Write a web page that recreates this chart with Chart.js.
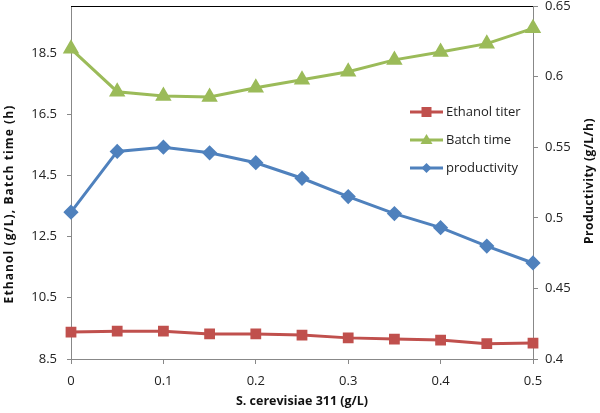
<!DOCTYPE html>
<html>
<head>
<meta charset="utf-8">
<script src="https://cdn.jsdelivr.net/npm/chart.js@4"></script>
<style>
  html, body { margin: 0; padding: 0; background: #fff; }
  #wrap { width: 600px; height: 413px; }
</style>
</head>
<body>
<div id="wrap"><canvas id="myChart" width="600" height="413"></canvas></div>
<script>

var dose = [ 0, 0.05, 0.1, 0.15, 0.2, 0.25, 0.3, 0.35, 0.4, 0.45, 0.5 ];
var titer = [ 9.38, 9.41, 9.41, 9.32, 9.32, 9.28, 9.19, 9.15, 9.12, 9.0, 9.02 ];
var batchTime = [ 18.63, 17.23, 17.09, 17.06, 17.36, 17.62, 17.88, 18.27, 18.53, 18.8, 19.3 ];
var productivity = [ 0.504, 0.547, 0.550, 0.546, 0.539, 0.528, 0.515, 0.503, 0.493, 0.480, 0.468 ];

var xTicks = [ 0, 0.1, 0.2, 0.3, 0.4, 0.5 ];
var leftTicks = [ 8.5, 10.5, 12.5, 14.5, 16.5, 18.5 ];
var rightTicks = [ 0.4, 0.45, 0.5, 0.55, 0.6, 0.65 ];

var pts = (arr)=> arr.map( (v,i)=>({ x: dose[i], y: v }) );

var FONT = "'Open Sans', sans-serif";

var frame = {
	id: "frame",
	afterDatasetsDraw: (chart)=>{
		var ctx = chart.ctx, a = chart.chartArea;
		ctx.save();
		ctx.strokeStyle = "#000";
		ctx.lineWidth = 1;
		ctx.beginPath();
		ctx.moveTo( a.left, a.top + 0.5 );
		ctx.lineTo( a.right, a.top + 0.5 );
		ctx.stroke();

		// legend inside plot
		var x0 = 410, y0 = 112, gap = 28;
		chart.data.datasets.forEach( (ds,i)=>{
			var y = y0 + i*gap;
			ctx.strokeStyle = ds.borderColor;
			ctx.lineWidth = 3;
			ctx.beginPath(); ctx.moveTo( x0, y ); ctx.lineTo( x0 + 33, y ); ctx.stroke();
			ctx.fillStyle = ds.backgroundColor;
			var cx = x0 + 16.5;
			ctx.beginPath();
			if( ds.pointStyle == "rect" ) ctx.rect( cx-5, y-5, 10, 10 );
			else if( ds.pointStyle == "triangle" ){ ctx.moveTo( cx, y-6 ); ctx.lineTo( cx+6, y+4 ); ctx.lineTo( cx-6, y+4 ); ctx.closePath(); }
			else { ctx.moveTo( cx, y-5 ); ctx.lineTo( cx+5, y ); ctx.lineTo( cx, y+5 ); ctx.lineTo( cx-5, y ); ctx.closePath(); }
			ctx.fill();
			ctx.fillStyle = "#222";
			ctx.font = "13px " + FONT;
			ctx.textBaseline = "middle";
			ctx.textAlign = "left";
			ctx.fillText( ds.label, x0 + 36, y );
		});

		// y axis titles, both reading bottom to top
		ctx.fillStyle = "#111";
		ctx.textAlign = "center";
		ctx.textBaseline = "middle";
		ctx.save();
		ctx.translate( 10, 204 );
		ctx.rotate( -Math.PI/2 );
		ctx.font = "bold 12px " + FONT;
		ctx.letterSpacing = "1.1px";
		ctx.fillText( "Ethanol (g/L), Batch time (h)", 0, 0 );
		ctx.restore();
		ctx.save();
		ctx.translate( 590, 181 );
		ctx.rotate( -Math.PI/2 );
		ctx.font = "bold 12px " + FONT;
		ctx.letterSpacing = "0.5px";
		ctx.fillText( "Productivity (g/L/h)", 0, 0 );
		ctx.restore();
		ctx.restore();
	}
};

var noPad = (w)=> (s)=>{ s.width = w; s.paddingTop = 0; s.paddingBottom = 0; };

new Chart( "myChart", {
	type: "line",
	data: {
		datasets: [
		{
			label: "Ethanol titer",
			data: pts( titer ),
			yAxisID: "y",
			borderColor: "#C0504D",
			backgroundColor: "#C0504D",
			pointStyle: "rect",
			pointRadius: 5.5,
			borderWidth: 3,
			fill: false,
			clip: false
		},
		{
			label: "Batch time",
			data: pts( batchTime ),
			yAxisID: "y",
			borderColor: "#9BBB59",
			backgroundColor: "#9BBB59",
			pointStyle: "triangle",
			pointRadius: 6.5,
			borderWidth: 3,
			fill: false,
			clip: false
		},
		{
			label: "productivity",
			data: pts( productivity ),
			yAxisID: "y2",
			borderColor: "#4F81BD",
			backgroundColor: "#4F81BD",
			pointStyle: "rectRot",
			pointRadius: 5.5,
			borderWidth: 3,
			fill: false,
			clip: false
		}
	]},
	options: {
		responsive: false,
		animation: false,
		layout: { autoPadding: false, padding: { top: 6, left: 0, right: 0, bottom: 0 } },
		plugins: { legend: { display: false }, tooltip: { enabled: false } },
		scales: {
			x: {
				type: "linear",
				min: 0, max: 0.5,
				afterBuildTicks: (s)=>{ s.ticks = xTicks.map( v=>({ value: v }) ); },
				afterFit: (s)=>{ s.height = 54; },
				grid: { drawOnChartArea: false, color: "#888", tickLength: 5 },
				border: { color: "#888" },
				ticks: { color: "#222", font: { family: FONT, size: 13 }, padding: 9, maxRotation: 0,
					callback: (v)=> String( Math.round( v*10 )/10 ) },
				title: { display: true, text: "S. cerevisiae 311 (g/L)", color: "#111",
					font: { family: FONT, size: 12.5, weight: "bold" }, padding: { top: 0 } }
			},
			y: {
				position: "left",
				min: 8.5, max: 20.03,
				afterBuildTicks: (s)=>{ s.ticks = leftTicks.map( v=>({ value: v }) ); },
				afterFit: noPad( 71 ),
				grid: { drawOnChartArea: false, color: "#888", tickLength: 4 },
				border: { color: "#888" },
				ticks: { color: "#222", font: { family: FONT, size: 13 }, padding: 10,
					callback: (v)=> v.toFixed(1) }
			},
			y2: {
				position: "right",
				min: 0.4, max: 0.65,
				afterBuildTicks: (s)=>{ s.ticks = rightTicks.map( v=>({ value: v }) ); },
				afterFit: noPad( 67 ),
				grid: { drawOnChartArea: false, color: "#888", tickLength: 5 },
				border: { color: "#888" },
				ticks: { color: "#222", font: { family: FONT, size: 13 }, padding: 7,
					callback: (v)=> String( Math.round( v*100 )/100 ) }
			}
		}
	},
	plugins: [ frame ]
});

</script>
</body>
</html>
